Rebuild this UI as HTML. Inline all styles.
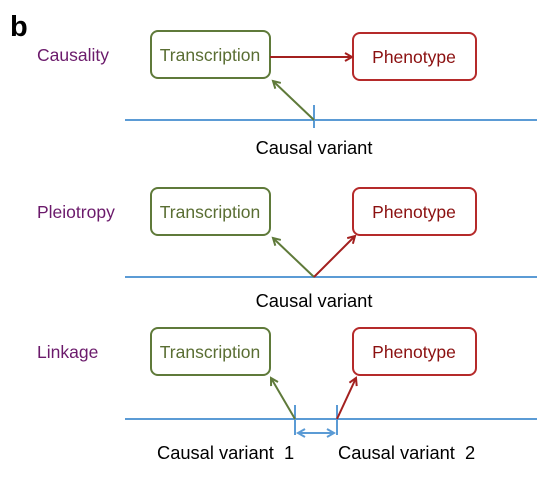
<!DOCTYPE html>
<html><head><style>body{margin:0;background:#fff}svg{display:block}</style></head><body>
<svg width="554" height="480" xmlns="http://www.w3.org/2000/svg" font-family="Liberation Sans, sans-serif">
<defs>
<marker id="g" markerWidth="10" markerHeight="10" refX="8" refY="5" orient="auto" markerUnits="userSpaceOnUse"><path d="M1,1 L8,5 L1,9" fill="none" stroke="#5f7a3a" stroke-width="2"/></marker>
<marker id="r" markerWidth="10" markerHeight="10" refX="8" refY="5" orient="auto" markerUnits="userSpaceOnUse"><path d="M1,1 L8,5 L1,9" fill="none" stroke="#a3201f" stroke-width="2"/></marker>
<marker id="b" markerWidth="10" markerHeight="10" refX="8" refY="5" orient="auto-start-reverse" markerUnits="userSpaceOnUse"><path d="M1,1 L8,5 L1,9" fill="none" stroke="#5b9bd5" stroke-width="2"/></marker>
</defs>
<text x="10" y="36" font-size="29" font-weight="bold">b</text>
<g font-size="17.5" fill="#6b1a6b">
<text x="37" y="61">Causality</text>
<text x="37" y="218">Pleiotropy</text>
<text x="37" y="358">Linkage</text>
</g>
<g fill="#fff" stroke-width="2">
<rect x="151" y="31" width="119" height="47" rx="7" stroke="#5f7a3a"/>
<rect x="353" y="33" width="123" height="47" rx="7" stroke="#b52a2a"/>
<rect x="151" y="188" width="119" height="47" rx="7" stroke="#5f7a3a"/>
<rect x="353" y="188" width="123" height="47" rx="7" stroke="#b52a2a"/>
<rect x="151" y="328" width="119" height="47" rx="7" stroke="#5f7a3a"/>
<rect x="353" y="328" width="123" height="47" rx="7" stroke="#b52a2a"/>
</g>
<g font-size="17.5" text-anchor="middle">
<text x="210" y="61" fill="#5a6e33">Transcription</text>
<text x="414" y="63" fill="#8b1010">Phenotype</text>
<text x="210" y="218" fill="#5a6e33">Transcription</text>
<text x="414" y="218" fill="#8b1010">Phenotype</text>
<text x="210" y="358" fill="#5a6e33">Transcription</text>
<text x="414" y="358" fill="#8b1010">Phenotype</text>
</g>
<g stroke="#5b9bd5" stroke-width="2" fill="none">
<line x1="125" y1="120" x2="537" y2="120"/>
<line x1="314" y1="105" x2="314" y2="128"/>
<line x1="125" y1="277" x2="537" y2="277"/>
<line x1="125" y1="419" x2="537" y2="419"/>
<line x1="295" y1="405" x2="295" y2="435"/>
<line x1="337" y1="405" x2="337" y2="435"/>
<line x1="298" y1="433" x2="334" y2="433" marker-start="url(#b)" marker-end="url(#b)"/>
</g>
<g stroke-width="2">
<line x1="270" y1="57" x2="352" y2="57" stroke="#a3201f" marker-end="url(#r)"/>
<line x1="314" y1="120" x2="273" y2="81" stroke="#5f7a3a" marker-end="url(#g)"/>
<line x1="314" y1="277" x2="273" y2="238" stroke="#5f7a3a" marker-end="url(#g)"/>
<line x1="314" y1="277" x2="355" y2="236" stroke="#a3201f" marker-end="url(#r)"/>
<line x1="295" y1="419" x2="271" y2="378" stroke="#5f7a3a" marker-end="url(#g)"/>
<line x1="337" y1="419" x2="356" y2="378" stroke="#a3201f" marker-end="url(#r)"/>
</g>
<g font-size="18.3" fill="#000">
<text x="314" y="154" text-anchor="middle">Causal variant</text>
<text x="314" y="307" text-anchor="middle">Causal variant</text>
<text x="157" y="459" xml:space="preserve">Causal variant  1</text>
<text x="338" y="459" xml:space="preserve">Causal variant  2</text>
</g>
</svg>
</body></html>
